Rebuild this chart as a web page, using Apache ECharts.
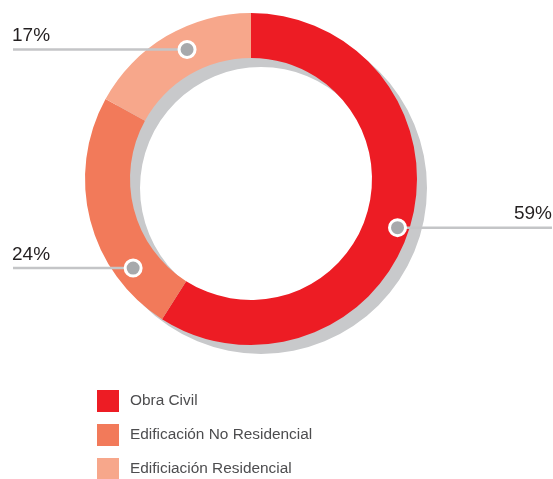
<!DOCTYPE html>
<html>
<head>
<meta charset="utf-8">
<style>
  html, body { margin: 0; padding: 0; background: #fff; }
  #chart { width: 553px; height: 479px; }
</style>
<script src="https://cdn.jsdelivr.net/npm/echarts@6/dist/echarts.min.js"></script>
</head>
<body>
<div id="chart"></div>
<script>
// datos del gráfico
const categories = ['Obra Civil', 'Edificación No Residencial', 'Edificiación Residencial'];
const shares = [59, 24, 17];
const shareLabels = ['59%', '24%', '17%'];

// dónde cae el punto de cada etiqueta (en % del anillo)
const anchorAngle = [30.1, 64.7, 92.7];
const anchorRadius = [0.93, 0.89, 0.87];
const anchorSide = ['right', 'left', 'left'];

const colors = ['#ED1C24', '#F27A5A', '#F7A78B'];
const FONT = '"Liberation Sans", Arial, Helvetica, sans-serif';
const CENTER = [251, 179];
const RADIUS = [121, 166];

const chart = echarts.init(document.getElementById('chart'));

chart.setOption({
  animation: false,
  color: colors,
  legend: {
    data: categories,
    orient: 'vertical',
    left: 97,
    top: 390,
    height: 100,
    icon: 'rect',
    itemWidth: 22,
    itemHeight: 22,
    itemGap: 12,
    selectedMode: false,
    padding: 0,
    textStyle: {
      color: '#4D4D4F',
      fontSize: 15.4,
      fontFamily: FONT,
      padding: [0, 0, 0, 6]
    }
  },
  polar: { center: CENTER, radius: [0, RADIUS[1]] },
  angleAxis: {
    type: 'value', min: 0, max: 100, startAngle: 90, clockwise: true,
    axisLine: { show: false }, axisTick: { show: false },
    axisLabel: { show: false }, splitLine: { show: false }
  },
  radiusAxis: {
    type: 'value', min: 0, max: 1,
    axisLine: { show: false }, axisTick: { show: false },
    axisLabel: { show: false }, splitLine: { show: false }
  },
  series: [
    { // sombra gris desplazada
      type: 'pie',
      silent: true,
      z: 1,
      center: [CENTER[0] + 10, CENTER[1] + 9],
      radius: RADIUS,
      label: { show: false },
      labelLine: { show: false },
      data: [{ value: 1, name: 'sombra', itemStyle: { color: '#C8C9CB' } }]
    },
    {
      type: 'pie',
      z: 2,
      center: CENTER,
      radius: RADIUS,
      startAngle: 90,
      clockwise: true,
      silent: true,
      label: { show: false },
      labelLine: { show: false },
      emphasis: { disabled: true },
      data: categories.map((name, i) => ({ name, value: shares[i] }))
    },
    { // etiquetas con punto y línea
      type: 'custom',
      coordinateSystem: 'polar',
      z: 5,
      silent: true,
      data: shares.map((v, i) => [anchorRadius[i], anchorAngle[i], i]),
      renderItem: function (params, api) {
        const i = api.value(2);
        const pt = api.coord([api.value(0), api.value(1)]);
        const left = anchorSide[i] === 'left';
        const endX = left ? 13 : 552;
        return {
          type: 'group',
          children: [
            {
              type: 'line',
              shape: { x1: endX, y1: pt[1], x2: pt[0], y2: pt[1] },
              style: { stroke: '#C4C5C7', lineWidth: 2.5 }
            },
            {
              type: 'circle',
              shape: { cx: pt[0], cy: pt[1], r: 8 },
              style: { fill: '#A7A9AC', stroke: '#fff', lineWidth: 3 }
            },
            {
              type: 'text',
              style: {
                text: shareLabels[i],
                x: left ? endX - 1 : endX,
                y: pt[1] - 4,
                align: left ? 'left' : 'right',
                verticalAlign: 'bottom',
                fill: '#231F20',
                fontSize: 19,
                fontFamily: FONT
              }
            }
          ]
        };
      }
    }
  ]
});
</script>
</body>
</html>
